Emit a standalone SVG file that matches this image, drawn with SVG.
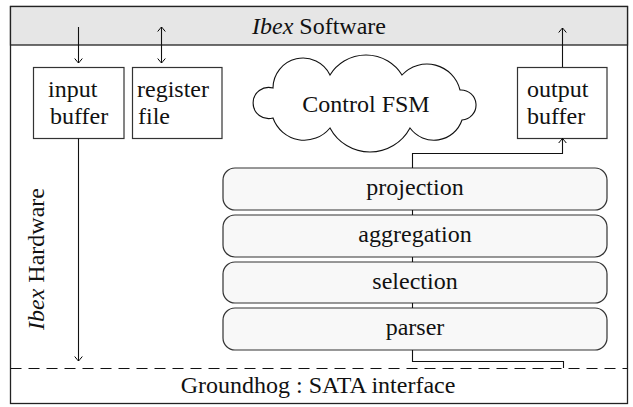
<svg xmlns="http://www.w3.org/2000/svg" width="633" height="407" viewBox="0 0 633 407">
<defs>
<marker id="ah" viewBox="-6 -5 8 10" markerWidth="8" markerHeight="10" refX="0" refY="0" orient="auto-start-reverse" markerUnits="userSpaceOnUse">
<path d="M -4.5 -3.8 Q -1 -1 0 0 Q -1 1 -4.5 3.8" fill="none" stroke="#000" stroke-width="1"/>
</marker>
<style>
.box{fill:#fff;stroke:#333;stroke-width:1.2}
.stage{fill:#f8f8f8;stroke:#333;stroke-width:1.2}
.ln{fill:none;stroke:#111;stroke-width:1.1}
.c{text-anchor:middle}
</style>
</defs>
<g font-family="'Liberation Serif', 'Times New Roman', serif" font-size="24" fill="#111">
<g id="frame">
<rect x="10.5" y="6.5" width="617" height="397" fill="#fff" stroke="#222" stroke-width="1.3"/>
<rect x="10.5" y="6.5" width="617" height="38.5" fill="#e6e6e6" stroke="#222" stroke-width="1.3"/>
<text class="c" x="319" y="34"><tspan font-style="italic">Ibex</tspan> Software</text>
<line x1="10.5" y1="368.5" x2="627.5" y2="368.5" stroke="#111" stroke-width="1.1" stroke-dasharray="11,7"/>
<text class="c" x="318" y="393">Groundhog : SATA interface</text>
<text class="c" transform="translate(44,259) rotate(-90)"><tspan font-style="italic">Ibex</tspan> Hardware</text>
</g>
<g id="input-buffer">
<rect class="box" x="33.5" y="67.5" width="90.5" height="71"/>
<text x="48" y="97">input</text>
<text x="50" y="124">buffer</text>
</g>
<g id="register-file">
<rect class="box" x="132.5" y="67.5" width="89.5" height="71"/>
<text x="137" y="97">register</text>
<text x="138" y="124">file</text>
</g>
<g id="output-buffer">
<rect class="box" x="517.5" y="67.5" width="89.5" height="71"/>
<text x="527" y="97">output</text>
<text x="527" y="124">buffer</text>
</g>
<g id="control-fsm">
<path d="M 273 88 A 30 30 0 0 1 330 75 A 42.4 42.4 0 0 1 402 75 A 34 34 0 0 1 460 90 A 15 15 0 0 1 462 120 A 29.6 29.6 0 0 1 410 128 A 45.3 45.3 0 0 1 330 128 A 33.2 33.2 0 0 1 273 118 A 15.6 15.6 0 1 1 273 88 Z" fill="#fff" stroke="#111" stroke-width="1.1"/>
<text class="c" x="366" y="112">Control FSM</text>
</g>
<g id="projection">
<rect class="stage" x="223" y="168" width="384" height="42" rx="12"/>
<text class="c" x="415" y="195">projection</text>
</g>
<g id="aggregation">
<rect class="stage" x="223" y="215" width="384" height="42" rx="12"/>
<text class="c" x="415" y="242">aggregation</text>
</g>
<g id="selection">
<rect class="stage" x="223" y="262" width="384" height="41" rx="12"/>
<text class="c" x="415" y="289">selection</text>
</g>
<g id="parser">
<rect class="stage" x="223" y="308" width="384" height="42" rx="12"/>
<text class="c" x="415" y="335">parser</text>
</g>
</g>
<g id="connectors">
<line class="ln" x1="78.5" y1="27" x2="78.5" y2="63" marker-end="url(#ah)"/>
<line class="ln" x1="161.5" y1="27" x2="161.5" y2="63" marker-start="url(#ah)" marker-end="url(#ah)"/>
<line class="ln" x1="562.5" y1="67" x2="562.5" y2="28" marker-end="url(#ah)"/>
<line class="ln" x1="78.5" y1="138.5" x2="78.5" y2="361" marker-end="url(#ah)"/>
<polyline class="ln" points="412.5,168 412.5,153.5 562.5,153.5 562.5,138.5" marker-end="url(#ah)"/>
<line class="ln" x1="412.5" y1="210" x2="412.5" y2="215"/>
<line class="ln" x1="412.5" y1="257" x2="412.5" y2="262"/>
<line class="ln" x1="412.5" y1="303" x2="412.5" y2="308"/>
<polyline class="ln" points="412.5,350 412.5,361.5 563.5,361.5 563.5,368"/>
</g>
</svg>
